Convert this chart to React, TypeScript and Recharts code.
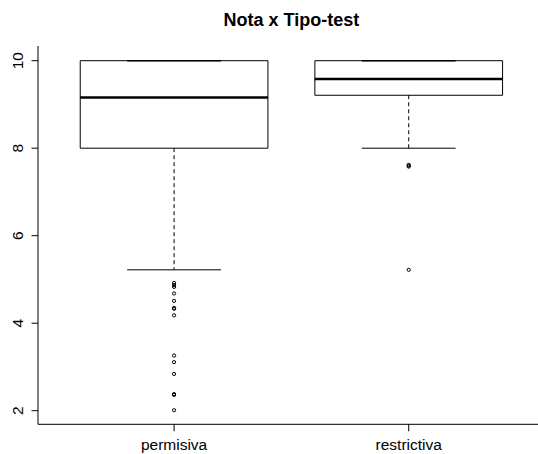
import {
  ScatterChart,
  Scatter,
  XAxis,
  YAxis,
  ReferenceArea,
  ReferenceLine,
} from "recharts";

// Boxplot of grades (Nota) by test type, drawn R-style: boxes/whiskers via
// reference shapes on numeric axes, outliers as open circles.

const categories = ["permisiva", "restrictiva"];
const lowerQuartile = [8.0, 9.21];
const medians = [9.16, 9.58];
const upperQuartile = [10, 10];
const lowerWhisker = [5.22, 8.0];
const upperWhisker = [10, 10];
const outliersPermisiva = [4.92, 4.87, 4.83, 4.68, 4.51, 4.33, 4.35, 4.18, 3.26, 3.11, 2.84, 2.36, 2.38, 2.01];
const outliersRestrictiva = [7.58, 7.6, 7.62, 5.22];
const yTicks = [2, 4, 6, 8, 10];

const FONT = "'Liberation Sans', Arial, Helvetica, sans-serif";
const BOX_HALF = 0.4;
const CAP_HALF = 0.2;

const outlierData = [outliersPermisiva, outliersRestrictiva].flatMap((vals, i) =>
  vals.map((v) => ({ x: i + 1, y: v }))
);

function YTick({ x, y, payload }: any) {
  const bx = x - 6;
  return (
    <text
      x={bx}
      y={y}
      transform={`rotate(-90, ${bx}, ${y})`}
      textAnchor="middle"
      fontSize={15.5}
      fontFamily={FONT}
      fill="#000"
    >
      {payload.value}
    </text>
  );
}

function XTick({ x, y, payload }: any) {
  return (
    <text x={x} y={y} dy={17} textAnchor="middle" fontSize={15.5} fontFamily={FONT} fill="#000">
      {categories[payload.value - 1]}
    </text>
  );
}

function Outlier({ cx, cy }: any) {
  return <circle cx={cx} cy={cy} r={1.6} fill="none" stroke="#000" strokeWidth={1} />;
}

export default function App() {
  return (
    <div
      style={{
        position: "absolute",
        left: 0,
        top: 0,
        width: 538,
        height: 454,
        overflow: "hidden",
        background: "#fff",
      }}
    >
      <svg width={538} height={40} style={{ position: "absolute", left: 0, top: 0 }}>
        <text x={291.4} y={26} textAnchor="middle" fontSize={18} fontWeight="bold" fontFamily={FONT} fill="#000">
          Nota x Tipo-test
        </text>
      </svg>
      <div style={{ position: "absolute", left: 0, top: 0 }}>
        <ScatterChart width={560} height={454} margin={{ top: 46, right: 15.2, bottom: 0, left: 0 }}>
          <XAxis
            type="number"
            dataKey="x"
            domain={[0.42, 2.58]}
            ticks={[1, 2]}
            allowDataOverflow
            height={29.7}
            tickSize={7}
            tick={<XTick />}
            stroke="#000"
          />
          <XAxis
            xAxisId="top"
            orientation="top"
            type="number"
            domain={[0.42, 2.58]}
            height={0}
            tick={false}
            tickLine={false}
            stroke="#000"
          />
          <YAxis
            type="number"
            dataKey="y"
            domain={[1.689, 10.336]}
            ticks={yTicks}
            allowDataOverflow
            width={38}
            tickSize={6.5}
            tick={<YTick />}
            stroke="#000"
          />
          {categories.map((c, i) => (
            <ReferenceArea
              key={`box-${c}`}
              x1={i + 1 - BOX_HALF}
              x2={i + 1 + BOX_HALF}
              y1={lowerQuartile[i]}
              y2={upperQuartile[i]}
              fill="#fff"
              fillOpacity={1}
              stroke="#000"
              strokeWidth={1}
            />
          ))}
          {categories.map((c, i) => (
            <ReferenceLine
              key={`lw-${c}`}
              segment={[
                { x: i + 1, y: lowerQuartile[i] },
                { x: i + 1, y: lowerWhisker[i] },
              ]}
              stroke="#000"
              strokeDasharray="4 3"
            />
          ))}
          {categories.map((c, i) => (
            <ReferenceLine
              key={`lc-${c}`}
              segment={[
                { x: i + 1 - CAP_HALF, y: lowerWhisker[i] },
                { x: i + 1 + CAP_HALF, y: lowerWhisker[i] },
              ]}
              stroke="#000"
            />
          ))}
          {categories.map((c, i) => (
            <ReferenceLine
              key={`uc-${c}`}
              segment={[
                { x: i + 1 - CAP_HALF, y: upperWhisker[i] },
                { x: i + 1 + CAP_HALF, y: upperWhisker[i] },
              ]}
              stroke="#000"
              strokeWidth={1.5}
            />
          ))}
          {categories.map((c, i) => (
            <ReferenceLine
              key={`med-${c}`}
              segment={[
                { x: i + 1 - BOX_HALF, y: medians[i] },
                { x: i + 1 + BOX_HALF, y: medians[i] },
              ]}
              stroke="#000"
              strokeWidth={2.6}
            />
          ))}
          <Scatter data={outlierData} shape={<Outlier />} isAnimationActive={false} />
        </ScatterChart>
      </div>
    </div>
  );
}
